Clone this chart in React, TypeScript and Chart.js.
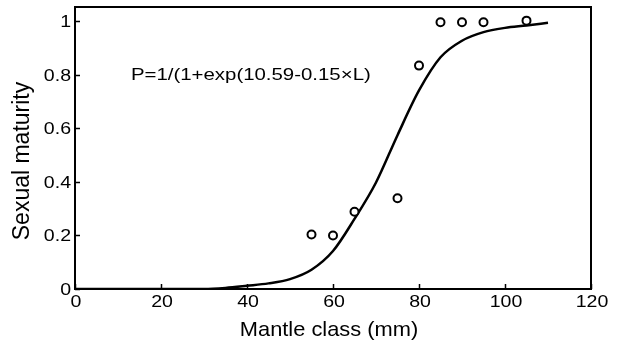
import React, { useEffect, useRef } from "react";
import { Chart, registerables } from "chart.js";

Chart.register(...registerables);

// Fitted logistic curve
const curveL = [0, 5, 10, 15, 20, 25, 30, 35, 40, 45, 50, 55, 60, 65, 70, 75, 80, 85, 90, 95, 100, 105, 110];
const curveP = [0, 0, 0, 0, 0, 0, 0, 0.004, 0.012, 0.021, 0.037, 0.072, 0.142, 0.262, 0.398, 0.575, 0.742, 0.866, 0.928, 0.96, 0.976, 0.985, 0.995];

// Observed proportions
const obsL = [55, 60, 65, 75, 80, 85, 90, 95, 105];
const obsP = [0.204, 0.2, 0.289, 0.339, 0.835, 0.997, 0.997, 0.997, 1.003];

const xTicks = [0, 20, 40, 60, 80, 100, 120];
const yTicks = [0, 0.2, 0.4, 0.6, 0.8, 1];
const yTickLabels = ["0", "0.2", "0.4", "0.6", "0.8", "1"];

const xTitle = "Mantle class (mm)";
const yTitle = "Sexual maturity";
const equation = "P=1/(1+exp(10.59-0.15×L)";
const equationAt = { x: 13, y: 0.8 };

const FONT = "'Liberation Sans', Arial, Helvetica, sans-serif";
const STRETCH = 1.15;

const framePlugin = {
  id: "frame",
  afterDatasetsDraw(chart: any) {
    const { ctx, chartArea } = chart;
    const xs = chart.scales.x;
    const ys = chart.scales.y;
    ctx.save();
    ctx.strokeStyle = "#000";
    ctx.lineWidth = 2;
    ctx.strokeRect(chartArea.left, chartArea.top, chartArea.right - chartArea.left, chartArea.bottom - chartArea.top);
    ctx.lineWidth = 1.5;
    ctx.beginPath();
    xTicks.forEach((v) => {
      const px = Math.round(xs.getPixelForValue(v)) + 0.5;
      ctx.moveTo(px, chartArea.bottom);
      ctx.lineTo(px, chartArea.bottom - 5);
    });
    yTicks.forEach((v) => {
      const py = Math.round(ys.getPixelForValue(v)) + 0.5;
      ctx.moveTo(chartArea.left, py);
      ctx.lineTo(chartArea.left + 5, py);
    });
    ctx.stroke();
    ctx.restore();
  },
  afterDraw(chart: any) {
    const { ctx, chartArea } = chart;
    const xs = chart.scales.x;
    const ys = chart.scales.y;
    ctx.save();
    ctx.fillStyle = "#000";

    // tick labels
    ctx.font = `17px ${FONT}`;
    ctx.textBaseline = "alphabetic";
    ctx.textAlign = "center";
    xTicks.forEach((v) => {
      const px = xs.getPixelForValue(v);
      ctx.save();
      ctx.translate(px + 1, chartArea.bottom + 18);
      ctx.scale(STRETCH, 1);
      ctx.fillText(String(v), 0, 0);
      ctx.restore();
    });
    ctx.textAlign = "right";
    yTicks.forEach((v, i) => {
      const py = ys.getPixelForValue(v);
      ctx.save();
      ctx.translate(chartArea.left - 4, py + 6);
      ctx.scale(STRETCH, 1);
      ctx.fillText(yTickLabels[i], 0, 0);
      ctx.restore();
    });

    // equation
    ctx.font = `17px ${FONT}`;
    ctx.textAlign = "left";
    ctx.textBaseline = "middle";
    const ex = xs.getPixelForValue(equationAt.x);
    const ey = ys.getPixelForValue(equationAt.y);
    ctx.save();
    ctx.translate(ex, ey);
    ctx.scale(1.2, 1);
    ctx.fillText(equation, 0, 0);
    ctx.restore();

    // x title
    ctx.font = `21px ${FONT}`;
    ctx.textAlign = "center";
    ctx.textBaseline = "middle";
    ctx.save();
    ctx.translate((chartArea.left + chartArea.right) / 2 - 4, chartArea.bottom + 41);
    ctx.scale(1.04, 1);
    ctx.fillText(xTitle, 0, 0);
    ctx.restore();

    // y title
    ctx.save();
    ctx.translate(chartArea.left - 52, (chartArea.top + chartArea.bottom) / 2 + 13);
    ctx.rotate(-Math.PI / 2);
    ctx.font = `23px ${FONT}`;
    ctx.fillText(yTitle, 0, 0);
    ctx.restore();
    ctx.restore();
  },
};

export default function App() {
  const ref = useRef<HTMLCanvasElement | null>(null);
  useEffect(() => {
    if (!ref.current) return;
    const chart = new Chart(ref.current, {
      type: "line",
      data: {
        datasets: [
          {
            label: "observed",
            data: obsL.map((x, i) => ({ x, y: obsP[i] })),
            showLine: false,
            pointRadius: 4,
            pointHoverRadius: 4,
            pointBorderWidth: 2,
            pointBorderColor: "#000",
            pointBackgroundColor: "#fff",
            borderColor: "#000",
            backgroundColor: "#fff",
          },
          {
            label: "fit",
            data: curveL.map((x, i) => ({ x, y: curveP[i] })),
            borderColor: "#000",
            borderWidth: 2.5,
            pointRadius: 0,
            cubicInterpolationMode: "monotone",
            fill: false,
          },
        ],
      },
      options: {
        animation: false,
        responsive: false,
        events: [],
        layout: { padding: { left: 0, top: 7, right: 31, bottom: 0 } },
        plugins: { legend: { display: false }, tooltip: { enabled: false } },
        scales: {
          x: {
            type: "linear",
            min: 0,
            max: 120,
            grid: { display: false, drawTicks: false },
            border: { display: false },
            ticks: { display: false },
            afterBuildTicks: (s: any) => {
              s.ticks = xTicks.map((v) => ({ value: v }));
            },
            afterFit: (s: any) => {
              s.height = 56;
              s.paddingLeft = 0;
              s.paddingRight = 0;
            },
          },
          y: {
            type: "linear",
            min: 0,
            max: 1.054,
            grid: { display: false, drawTicks: false },
            border: { display: false },
            ticks: { display: false },
            afterBuildTicks: (s: any) => {
              s.ticks = yTicks.map((v) => ({ value: v }));
            },
            afterFit: (s: any) => {
              s.width = 75;
              s.paddingTop = 0;
              s.paddingBottom = 0;
            },
          },
        },
      },
      plugins: [framePlugin],
    } as any);
    return () => chart.destroy();
  }, []);
  return (
    <div style={{ position: "absolute", left: 0, top: 0, width: 622, height: 345, background: "#fff" }}>
      <canvas ref={ref} width={622} height={345} />
    </div>
  );
}
